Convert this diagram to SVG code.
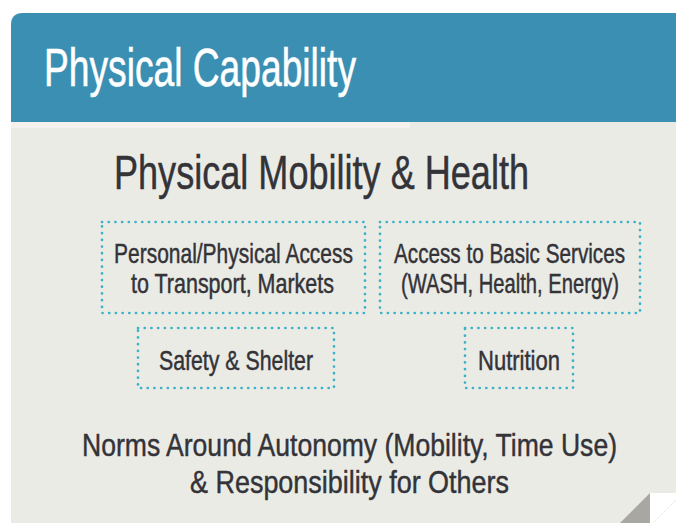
<svg xmlns="http://www.w3.org/2000/svg" width="676" height="523" viewBox="0 0 676 523">
<style>
text{font-family:"Liberation Sans",Arial,sans-serif;fill:#333338;stroke:#333338;stroke-width:0.35;text-anchor:start}
.box{fill:none;stroke:#3ab2c8;stroke-width:2.7;stroke-linecap:round;stroke-dasharray:0.1 6.6}
.t{font-size:20.4px}
.b{font-size:25.7px}
</style>
<rect width="676" height="523" fill="#ffffff"/>
<g id="card">
<path d="M11,523 V25 Q11,13 23,13 H676 V523 Z" fill="#ebebe6"/>
<path d="M11,122 V25 Q11,13 23,13 H676 V122 Z" fill="#3b8fb3"/>
<rect x="11" y="122" width="399" height="6" fill="#f4f1ee"/>
<text transform="translate(44,86) scale(1,1.53)" style="fill:#ffffff;stroke:#ffffff;stroke-width:0.4;font-size:35.6px" textLength="312" lengthAdjust="spacingAndGlyphs">Physical Capability</text>
</g>
<g id="fold">
<rect x="650" y="493" width="26" height="30" fill="#ffffff"/>
<polygon points="650,493 650,523 620,523" fill="#a9a7a1"/>
<line x1="676" y1="500" x2="653" y2="523" stroke="#dddddd" stroke-width="1" stroke-dasharray="1 1"/>
</g>
<g id="title">
<text transform="translate(114,189) scale(1,1.34)" style="font-size:35.4px" textLength="415" lengthAdjust="spacingAndGlyphs">Physical Mobility &amp; Health</text>
</g>
<g id="node-access-transport">
<rect class="box" x="102" y="222" width="263" height="91"/>
<text class="t" transform="translate(114,263) scale(1,1.37)" textLength="239" lengthAdjust="spacingAndGlyphs">Personal/Physical Access</text>
<text class="t" transform="translate(131,293) scale(1,1.37)" textLength="203" lengthAdjust="spacingAndGlyphs">to Transport, Markets</text>
</g>
<g id="node-basic-services">
<rect class="box" x="380" y="222" width="260" height="91"/>
<text class="t" transform="translate(394,263) scale(1,1.37)" textLength="231" lengthAdjust="spacingAndGlyphs">Access to Basic Services</text>
<text class="t" transform="translate(401,293) scale(1,1.37)" textLength="218" lengthAdjust="spacingAndGlyphs">(WASH, Health, Energy)</text>
</g>
<g id="node-safety">
<rect class="box" x="138" y="328" width="196" height="60"/>
<text class="t" transform="translate(159,370) scale(1,1.37)" textLength="154" lengthAdjust="spacingAndGlyphs">Safety &amp; Shelter</text>
</g>
<g id="node-nutrition">
<rect class="box" x="465" y="328" width="108" height="60"/>
<text class="t" transform="translate(478,370) scale(1,1.37)" textLength="82" lengthAdjust="spacingAndGlyphs">Nutrition</text>
</g>
<g id="norms">
<text class="b" transform="translate(82,456) scale(1,1.25)" textLength="535" lengthAdjust="spacingAndGlyphs">Norms Around Autonomy (Mobility, Time Use)</text>
<text class="b" transform="translate(190,493) scale(1,1.25)" textLength="319" lengthAdjust="spacingAndGlyphs">&amp; Responsibility for Others</text>
</g>
<g id="connectors"></g>
</svg>
